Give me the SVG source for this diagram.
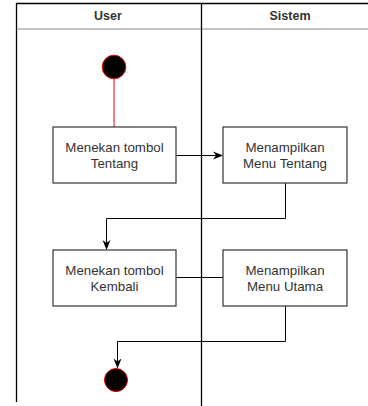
<svg xmlns="http://www.w3.org/2000/svg" width="368" height="406" viewBox="0 0 368 406">
  <style>
    .lane { fill: none; stroke: #000; stroke-width: 1.3; }
    .hdr { font-family: "Liberation Sans", Arial, sans-serif; font-size: 12.5px; font-weight: bold; fill: #333; text-anchor: middle; }
    .box { fill: #fff; stroke: #333; stroke-width: 1.2; }
    .lbl { font-family: "Liberation Sans", Arial, sans-serif; font-size: 13.3px; fill: #333; text-anchor: middle; }
    .edge { fill: none; stroke: #000; stroke-width: 1; }
    .dot { fill: #000; stroke: #e00; stroke-width: 1; }
  </style>
  <defs>
    <marker id="arrow" viewBox="0 0 10 10" refX="9" refY="5" markerWidth="10" markerHeight="10" markerUnits="userSpaceOnUse" orient="auto">
      <path d="M0,1 L10,5 L0,9 L3,5 Z" fill="#000"/>
    </marker>
  </defs>
  <rect width="368" height="406" fill="#fff"/>

  <!-- swimlanes -->
  <g id="lanes">
    <path class="lane" d="M16.5,402 V3.5 H368"/>
    <path d="M16.5,29 H368" stroke="#888" stroke-width="1" fill="none"/>
    <path class="lane" d="M201.5,3.5 V406"/>
    <text class="hdr" x="108" y="20">User</text>
    <text class="hdr" x="290" y="20">Sistem</text>
  </g>

  <!-- connectors -->
  <g id="connectors">
    <path d="M114,79 V127" stroke="#e00" stroke-width="1" fill="none"/>
    <path class="edge" d="M176,155.5 H222" marker-end="url(#arrow)"/>
    <path class="edge" d="M285.5,183 V218.5 H106.5 V249" marker-end="url(#arrow)"/>
    <path class="edge" d="M176,277.5 H223" stroke="#333"/>
    <path class="edge" d="M285.5,306 V341.5 H117.5 V367.5" marker-end="url(#arrow)"/>
  </g>

  <g id="start">
    <circle class="dot" cx="114" cy="67" r="11.8"/>
  </g>

  <g id="tekan-tentang">
    <rect class="box" x="53" y="127" width="123" height="56"/>
    <text class="lbl" x="114.5" y="152">Menekan tombol</text>
    <text class="lbl" x="114.5" y="168">Tentang</text>
  </g>

  <g id="tampil-tentang">
    <rect class="box" x="223" y="127" width="124" height="56"/>
    <text class="lbl" x="285" y="152">Menampilkan</text>
    <text class="lbl" x="285" y="168">Menu Tentang</text>
  </g>

  <g id="tekan-kembali">
    <rect class="box" x="53" y="250" width="123" height="56"/>
    <text class="lbl" x="114.5" y="275">Menekan tombol</text>
    <text class="lbl" x="114.5" y="291">Kembali</text>
  </g>

  <g id="tampil-utama">
    <rect class="box" x="223" y="250" width="124" height="56"/>
    <text class="lbl" x="285" y="275">Menampilkan</text>
    <text class="lbl" x="285" y="291">Menu Utama</text>
  </g>

  <g id="end">
    <circle class="dot" cx="116" cy="380" r="11.5"/>
  </g>
</svg>
